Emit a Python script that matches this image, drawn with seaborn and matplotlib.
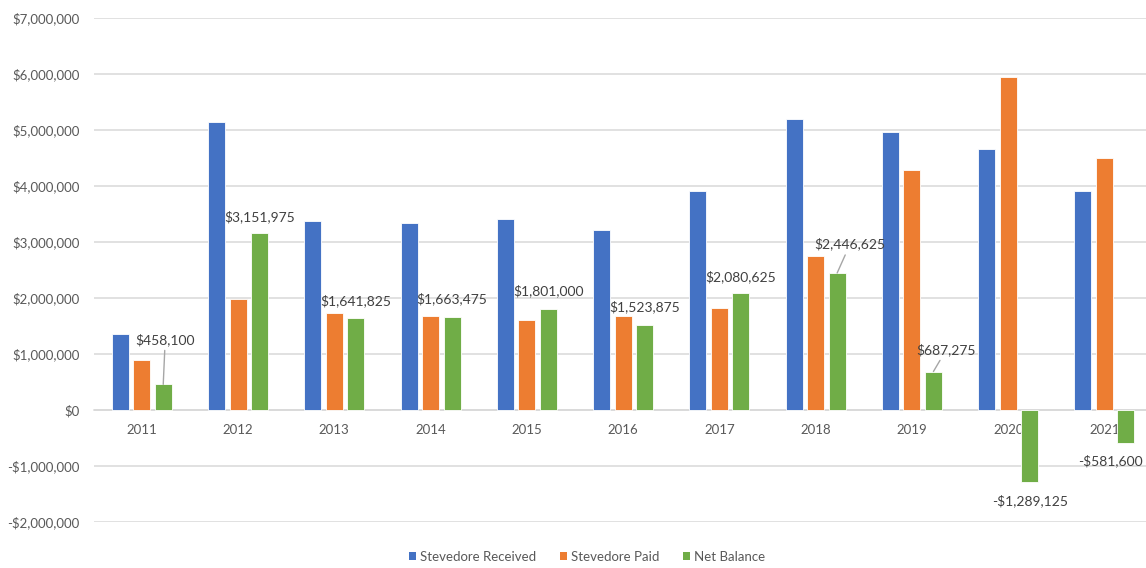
import matplotlib
matplotlib.use("Agg")
import matplotlib.pyplot as plt
from matplotlib.patches import Patch
from matplotlib.ticker import FuncFormatter, MultipleLocator
import pandas as pd
import seaborn as sns

# ---- data ----
years = ["2011", "2012", "2013", "2014", "2015", "2016",
         "2017", "2018", "2019", "2020", "2021"]
received = [1350000, 5140000, 3380000, 3345000, 3415000, 3210000,
            3905000, 5200000, 4965000, 4655000, 3915000]
paid = [891900, 1988025, 1738175, 1681525, 1614000, 1686125,
        1824375, 2753375, 4277725, 5944125, 4496600]
net = [458100, 3151975, 1641825, 1663475, 1801000, 1523875,
       2080625, 2446625, 687275, -1289125, -581600]
series_names = ["Stevedore Received", "Stevedore Paid", "Net Balance"]
colors = ["#4472C4", "#ED7D31", "#70AD47"]

# label offsets (pixels) from the bar end, and whether a leader line is drawn
label_offsets = [(2, 45), (0, 17), (0, 17), (0, 18), (0, 18), (0, 18),
                 (0, 17), (13, 29), (13, 22), (0, -19), (-16, -18)]
leader = [True, False, False, False, False, False,
          False, True, True, False, False]

df = pd.DataFrame({
    "Year": years * 3,
    "Amount": received + paid + net,
    "Series": [s for s in series_names for _ in years],
})

sns.set_theme(style="white")
plt.rcParams["font.family"] = ["Lato", "DejaVu Sans"]

fig = plt.figure(figsize=(11.46, 5.68), dpi=100)
ax = fig.add_axes([93.6 / 1146, 46 / 568, (1152.6 - 93.6) / 1146, (522 - 18) / 568])

sns.barplot(data=df, x="Year", y="Amount", hue="Series",
            palette=dict(zip(series_names, colors)), saturation=1,
            width=0.67, gap=0.21, edgecolor="white", linewidth=0.6,
            errorbar=None, legend=False, ax=ax, zorder=3)

ax.set_xlim(-0.5, len(years) - 0.5)
ax.set_ylim(-2000000, 7000000)
ax.yaxis.set_major_locator(MultipleLocator(1000000))
ax.yaxis.set_major_formatter(FuncFormatter(
    lambda v, p: f"-${abs(v):,.0f}" if v < 0 else f"${v:,.0f}"))
ax.grid(axis="y", color="#D9D9D9", linewidth=1.1, zorder=0)
ax.grid(axis="x", visible=False)
for side in ["top", "right", "left"]:
    ax.spines[side].set_visible(False)
ax.spines["bottom"].set_position(("data", 0))
ax.spines["bottom"].set_color("#D9D9D9")
ax.spines["bottom"].set_linewidth(1.1)
ax.set_xlabel("")
ax.set_ylabel("")
ax.tick_params(axis="x", length=0, pad=10, labelsize=9.5, labelcolor="#595959")
ax.tick_params(axis="y", length=0, pad=10, labelsize=9.5, labelcolor="#595959")

# data labels on the net balance bars
for bar, val, (dx, dy), line in zip(ax.containers[2], net, label_offsets, leader):
    xc = bar.get_x() + bar.get_width() / 2
    text = f"-${abs(val):,.0f}" if val < 0 else f"${val:,.0f}"
    kw = {}
    if line:
        kw["arrowprops"] = dict(arrowstyle="-", color="#A6A6A6", lw=1.0,
                                shrinkA=1, shrinkB=0)
    ax.annotate(text, xy=(xc, val), xytext=(dx, dy), textcoords="offset pixels",
                ha="center", va="center", fontsize=10, color="#404040",
                zorder=5, **kw)

handles = [Patch(facecolor=c, edgecolor="none") for c in colors]
fig.legend(handles, series_names, loc="center", ncol=3, frameon=False,
           bbox_to_anchor=(587 / 1146, 1 - 557 / 568), fontsize=9.5,
           labelcolor="#595959", handlelength=0.55, handleheight=0.55,
           handletextpad=0.3, columnspacing=1.8)

fig.savefig("out.png", dpi=100)
